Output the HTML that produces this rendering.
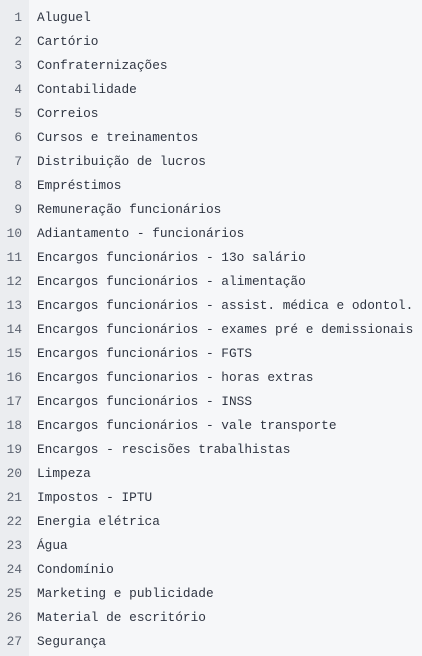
<!DOCTYPE html>
<html><head><meta charset="utf-8"><style>
html,body{margin:0;padding:0;}
body{width:422px;height:656px;background:#f6f7f9;position:relative;overflow:hidden;font-family:"Liberation Mono",monospace;font-size:12.8px;}
.g{position:absolute;left:0;top:0;width:29px;height:656px;background:#ebedf0;}
.r{position:absolute;left:0;width:422px;height:24px;line-height:24px;white-space:pre;}
.n{position:absolute;left:0;width:22px;text-align:right;color:#5c6370;}
.t{position:absolute;left:37px;color:#2f3542;}
</style></head><body><div class="g"></div>
<div class="r" style="top:6px"><span class="n">1</span><span class="t">Aluguel</span></div>
<div class="r" style="top:30px"><span class="n">2</span><span class="t">Cartório</span></div>
<div class="r" style="top:54px"><span class="n">3</span><span class="t">Confraternizações</span></div>
<div class="r" style="top:78px"><span class="n">4</span><span class="t">Contabilidade</span></div>
<div class="r" style="top:102px"><span class="n">5</span><span class="t">Correios</span></div>
<div class="r" style="top:126px"><span class="n">6</span><span class="t">Cursos e treinamentos</span></div>
<div class="r" style="top:150px"><span class="n">7</span><span class="t">Distribuição de lucros</span></div>
<div class="r" style="top:174px"><span class="n">8</span><span class="t">Empréstimos</span></div>
<div class="r" style="top:198px"><span class="n">9</span><span class="t">Remuneração funcionários</span></div>
<div class="r" style="top:222px"><span class="n">10</span><span class="t">Adiantamento - funcionários</span></div>
<div class="r" style="top:246px"><span class="n">11</span><span class="t">Encargos funcionários - 13o salário</span></div>
<div class="r" style="top:270px"><span class="n">12</span><span class="t">Encargos funcionários - alimentação</span></div>
<div class="r" style="top:294px"><span class="n">13</span><span class="t">Encargos funcionários - assist. médica e odontol.</span></div>
<div class="r" style="top:318px"><span class="n">14</span><span class="t">Encargos funcionários - exames pré e demissionais</span></div>
<div class="r" style="top:342px"><span class="n">15</span><span class="t">Encargos funcionários - FGTS</span></div>
<div class="r" style="top:366px"><span class="n">16</span><span class="t">Encargos funcionarios - horas extras</span></div>
<div class="r" style="top:390px"><span class="n">17</span><span class="t">Encargos funcionários - INSS</span></div>
<div class="r" style="top:414px"><span class="n">18</span><span class="t">Encargos funcionários - vale transporte</span></div>
<div class="r" style="top:438px"><span class="n">19</span><span class="t">Encargos - rescisões trabalhistas</span></div>
<div class="r" style="top:462px"><span class="n">20</span><span class="t">Limpeza</span></div>
<div class="r" style="top:486px"><span class="n">21</span><span class="t">Impostos - IPTU</span></div>
<div class="r" style="top:510px"><span class="n">22</span><span class="t">Energia elétrica</span></div>
<div class="r" style="top:534px"><span class="n">23</span><span class="t">Água</span></div>
<div class="r" style="top:558px"><span class="n">24</span><span class="t">Condomínio</span></div>
<div class="r" style="top:582px"><span class="n">25</span><span class="t">Marketing e publicidade</span></div>
<div class="r" style="top:606px"><span class="n">26</span><span class="t">Material de escritório</span></div>
<div class="r" style="top:630px"><span class="n">27</span><span class="t">Segurança</span></div>
</body></html>
